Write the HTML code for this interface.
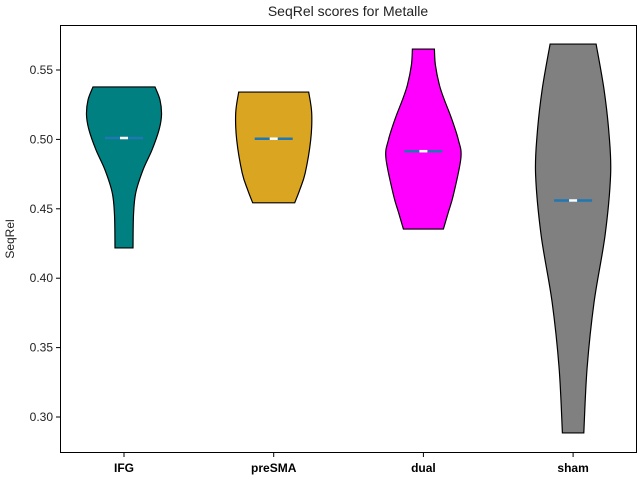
<!DOCTYPE html>
<html><head><meta charset="utf-8"><style>
body{margin:0;background:#fff;}
svg text{font-family:"Liberation Sans",sans-serif;}
</style></head><body>
<svg id="chart" width="640" height="480" viewBox="0 0 640 480">
<rect width="640" height="480" fill="#fff"/>
<text x="348" y="16" font-size="14" text-anchor="middle" fill="#222">SeqRel scores for Metalle</text>
<text x="14" y="239" font-size="12" text-anchor="middle" transform="rotate(-90 14 239)" fill="#222">SeqRel</text>
<g id="plot"></g>
<rect x="60.5" y="25.5" width="576" height="427" fill="none" stroke="#000" stroke-width="1"/>
</svg>
<script>
const categories = ["IFG","preSMA","dual","sham"];
const colors = ["#008080","#DAA520","#FF00FF","#808080"];
const medians = [0.501, 0.5005, 0.4915, 0.456];
const yTicks = [0.30,0.35,0.40,0.45,0.50,0.55];
const ifgVals = [0.5378,0.5284,0.5176,0.5068,0.4924,0.478,0.4614,0.4455,0.4218];
const ifgDens = [31,36,37.5,35,28,19,11.7,9.5,9];
const presmaVals = [0.5341,0.519,0.4996,0.4758,0.4636,0.4543];
const presmaDens = [35,38,37,31.5,26,21];
const dualVals = [0.5651,0.5536,0.5392,0.5284,0.5154,0.4996,0.4866,0.46,0.4477,0.4354];
const dualDens = [11,12,16,21,28,35,37.5,30,25,20];
const shamVals = [0.5687,0.5356,0.5032,0.4744,0.4311,0.3829,0.3353,0.2885];
const shamDens = [23,31,36,37.5,32,21,14,10.7];
const allVals=[ifgVals,presmaVals,dualVals,shamVals];
const allDens=[ifgDens,presmaDens,dualDens,shamDens];
const NS="http://www.w3.org/2000/svg";
const y=v=>417-(v-0.30)*1388;
const x=i=>124+149.7*i;
const g=document.getElementById('plot');
function el(t,a){const e=document.createElementNS(NS,t);for(const k in a)e.setAttribute(k,a[k]);return e;}
yTicks.forEach(t=>{
 const ln=el('line',{x1:56,x2:60.5,y1:y(t),y2:y(t),stroke:'#000'});
 
 
 g.appendChild(ln);
 const tx=el('text',{x:53,y:y(t)+4,'font-size':12,'text-anchor':'end',fill:'#222'});
 tx.textContent=t.toFixed(2);
 
 
 g.appendChild(tx);
});
function smooth(pts){
 let d='M'+pts[0][0]+','+pts[0][1];
 for(let i=0;i<pts.length-1;i++){
  const p0=pts[Math.max(0,i-1)],p1=pts[i],p2=pts[i+1],p3=pts[Math.min(pts.length-1,i+2)];
  const c1=[p1[0]+(p2[0]-p0[0])/6,p1[1]+(p2[1]-p0[1])/6];
  const c2=[p2[0]-(p3[0]-p1[0])/6,p2[1]-(p3[1]-p1[1])/6];
  d+=' C'+c1+' '+c2+' '+p2;
 }
 return d;
}
categories.forEach((c,i)=>{
 const cx=x(i),vals=allVals[i],dens=allDens[i];
 const right=vals.map((v,k)=>[cx+dens[k],y(v)]);
 const left=vals.map((v,k)=>[cx-dens[k],y(v)]).reverse();
 const d=smooth(right)+' L'+left[0]+smooth(left).replace(/^M[^ ]+/,'')+' Z';
 const p=el('path',{d:d,fill:colors[i],stroke:'#000','stroke-width':1.2});
 
 
 g.appendChild(p);
 const my=y(medians[i]);
 const ml=el('line',{x1:cx-19,x2:cx+19,y1:my,y2:my,stroke:'#1f77b4','stroke-width':2.5});
 
 
 g.appendChild(ml);
 const md=el('line',{x1:cx-4,x2:cx+4,y1:my,y2:my,stroke:'#fff','stroke-width':2.5});
 
 
 g.appendChild(md);
 const tk=el('line',{x1:cx,x2:cx,y1:452.5,y2:457,stroke:'#000'});
 
 
 g.appendChild(tk);
 const tx=el('text',{x:cx,y:472,'font-size':12,'font-weight':'bold','text-anchor':'middle',fill:'#000'});
 tx.textContent=c;
 
 
 g.appendChild(tx);
});
</script>
</body></html>
